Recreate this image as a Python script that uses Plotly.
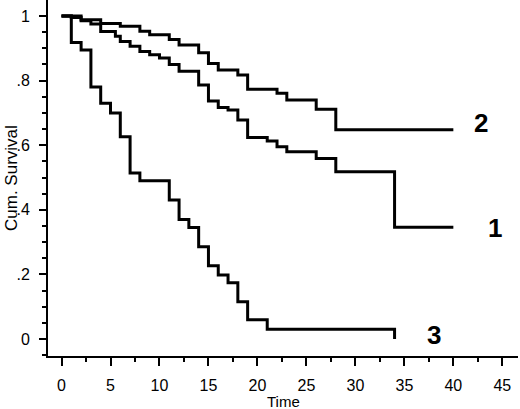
import plotly.graph_objects as go

# Group 1
t1 = [0, 1, 2, 3, 4, 5.5, 6, 7, 8, 9, 10, 11, 12, 14, 15, 16, 17, 18, 19, 21, 22, 23, 26, 28, 34, 40]
s1 = [1.0, 0.995, 0.985, 0.975, 0.952, 0.937, 0.921, 0.906, 0.89, 0.88, 0.87, 0.85, 0.829, 0.786,
      0.737, 0.717, 0.709, 0.678, 0.624, 0.613, 0.595, 0.58, 0.559, 0.518, 0.346, 0.346]
# Group 2
t2 = [0, 2, 4, 6, 8, 9, 11, 12, 14, 15, 16, 18, 19, 22, 23, 26, 28, 40]
s2 = [1.0, 0.988, 0.977, 0.968, 0.953, 0.942, 0.927, 0.91, 0.886, 0.853, 0.833, 0.817, 0.773,
      0.761, 0.74, 0.711, 0.648, 0.648]
# Group 3
t3 = [0, 1, 2, 3, 4, 5, 6, 7, 8, 11, 12, 13, 14, 15, 16, 17, 18, 19, 21, 34]
s3 = [1.0, 0.918, 0.895, 0.78, 0.73, 0.70, 0.626, 0.514, 0.49, 0.43, 0.37, 0.345, 0.286, 0.227,
      0.198, 0.174, 0.115, 0.06, 0.03, 0.0]

group_labels = ["1", "2", "3"]
label_x = [44.3, 42.8, 38.0]
label_y = [0.344, 0.669, 0.012]

x_ticks = [0, 5, 10, 15, 20, 25, 30, 35, 40, 45]
y_tickvals = [0, 0.2, 0.4, 0.6, 0.8, 1.0]
y_ticktext = ["0", ".2", ".4", ".6", ".8", "1"]

FONT = "Liberation Sans, Arial, Helvetica, sans-serif"

fig = go.Figure()
for t, s in [(t1, s1), (t2, s2), (t3, s3)]:
    fig.add_trace(go.Scatter(x=t, y=s, mode="lines", line=dict(color="black", width=3, shape="hv"),
                             showlegend=False, hoverinfo="skip"))

for lab, lx, ly in zip(group_labels, label_x, label_y):
    fig.add_annotation(x=lx, y=ly, text="<b>%s</b>" % lab, showarrow=False,
                       font=dict(family=FONT, size=26, color="black"), xanchor="center", yanchor="middle")

fig.add_annotation(xref="paper", yref="paper", x=0.5, y=0, yshift=-45, text="Time", showarrow=False,
                   font=dict(family=FONT, size=15, color="black"), xanchor="center", yanchor="middle")
fig.add_annotation(xref="paper", yref="paper", x=0, xshift=-37, y=0.5, text="Cum. Survival", showarrow=False,
                   textangle=-90, font=dict(family=FONT, size=17, color="black"), xanchor="center", yanchor="middle")

fig.update_xaxes(range=[-1.38, 46.6], tickvals=x_ticks, ticks="outside", ticklen=8, tickwidth=2,
                 tickcolor="black", showline=True, linecolor="black", linewidth=2, showgrid=False,
                 zeroline=False, ticklabelstandoff=6, automargin=False,
                 tickfont=dict(family=FONT, size=16, color="black"),
                 minor=dict(dtick=2.5, tick0=0, ticks="outside", ticklen=4, tickwidth=2, tickcolor="black",
                            showgrid=False))
fig.update_yaxes(range=[-0.0526, 1.0495], tickvals=y_tickvals, ticktext=y_ticktext, ticks="outside",
                 ticklen=7, tickwidth=2, tickcolor="black", showline=True, linecolor="black", linewidth=2,
                 showgrid=False, zeroline=False, ticklabelstandoff=6, automargin=False,
                 tickfont=dict(family=FONT, size=16, color="black"),
                 minor=dict(dtick=0.05, tick0=0, ticks="outside", ticklen=4, tickwidth=2, tickcolor="black",
                            showgrid=False))

fig.update_layout(width=520, height=409, margin=dict(l=48, r=2, t=0, b=53),
                  plot_bgcolor="white", paper_bgcolor="white", showlegend=False)

fig.write_html("out.html", config={"displayModeBar": False},
               post_script="document.body.style.margin='0';document.body.style.padding='0';document.body.style.overflow='hidden';")
